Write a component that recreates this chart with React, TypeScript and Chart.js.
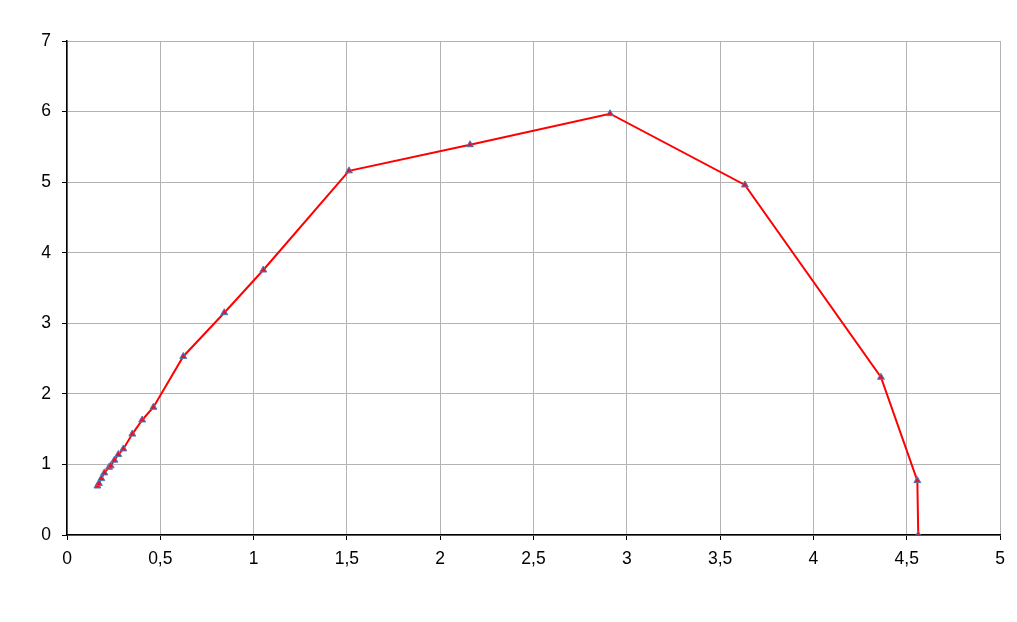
import React, { useEffect, useRef } from "react";
import { Chart, registerables } from "chart.js";

Chart.register(...registerables);

const xValues = [0.163, 0.171, 0.184, 0.2, 0.225, 0.234, 0.254, 0.275, 0.302, 0.35, 0.403, 0.463, 0.623, 0.843, 1.052, 1.511, 2.16, 2.91, 3.633, 4.362, 4.557, 4.562];
const yValues = [0.694, 0.73, 0.8, 0.88, 0.96, 0.98, 1.06, 1.14, 1.22, 1.43, 1.63, 1.81, 2.53, 3.15, 3.755, 5.16, 5.53, 5.97, 4.96, 2.235, 0.77, 0.0];

const xTickMin = 0;
const xTickMax = 5;
const xTickStep = 0.5;
const yTickMin = 0;
const yTickMax = 7;
const yTickStep = 1;

const fmt = (v: number | string) => String(v).replace(".", ",");

export default function App() {
  const ref = useRef<HTMLCanvasElement | null>(null);
  useEffect(() => {
    document.body.style.margin = "0";
    const ctx = ref.current!.getContext("2d")!;
    const chart = new Chart(ctx, {
      type: "scatter",
      data: {
        datasets: [
          {
            data: xValues.map((x, i) => ({ x, y: yValues[i] })),
            showLine: true,
            borderColor: "#ff0000",
            borderWidth: 2,
            pointStyle: "triangle",
            pointRadius: 4,
            pointBackgroundColor: "#e8102a",
            pointBorderColor: "#4a7ebb",
            pointBorderWidth: 1,
            tension: 0,
          },
        ],
      },
      options: {
        responsive: false,
        animation: false,
        layout: { padding: { left: 0, right: 17, top: 41, bottom: 0 } },
        plugins: { legend: { display: false }, tooltip: { enabled: false } },
        scales: {
          x: {
            type: "linear",
            min: xTickMin,
            max: xTickMax,
            ticks: {
              stepSize: xTickStep,
              color: "#000",
              font: { family: "Liberation Sans, Arial", size: 17.5 },
              padding: 9,
              maxRotation: 0,
              callback: (v: any) => fmt(v),
            },
            grid: { color: "#b3b3b3", lineWidth: 1, tickLength: 5, tickColor: "#000" },
            border: { color: "#000", width: 1.5 },
            afterFit: (s: any) => {
              s.height = 87;
            },
          },
          y: {
            type: "linear",
            min: yTickMin,
            max: yTickMax,
            ticks: {
              stepSize: yTickStep,
              color: "#000",
              font: { family: "Liberation Sans, Arial", size: 17.5 },
              padding: 11,
              callback: (v: any) => fmt(v),
            },
            grid: { color: "#b3b3b3", lineWidth: 1, tickLength: 5, tickColor: "#000" },
            border: { color: "#000", width: 1.5 },
            afterFit: (s: any) => {
              s.width = 67;
            },
          },
        },
      },
    });
    return () => chart.destroy();
  }, []);
  return (
    <div style={{ position: "absolute", left: 0, top: 0, width: 1017, height: 622, background: "#fff" }}>
      <canvas ref={ref} width={1017} height={622} />
    </div>
  );
}
